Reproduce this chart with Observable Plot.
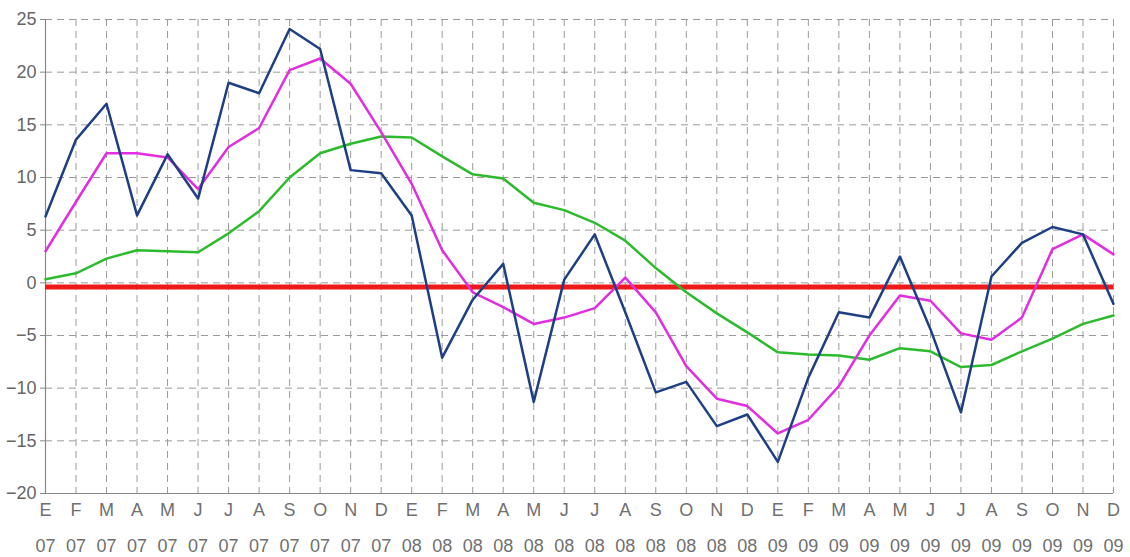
<!DOCTYPE html>
<html>
<head>
<meta charset="utf-8">
<script src="https://cdn.jsdelivr.net/npm/d3@7"></script>
<script src="https://cdn.jsdelivr.net/npm/@observablehq/plot@0.6"></script>
<style>
  html, body { margin: 0; padding: 0; background: #fff; }
  #chart svg { display: block; }
</style>
</head>
<body>
<div id="chart"></div>
<script>
// ---- data ----
const monthLetters = ["E","F","M","A","M","J","J","A","S","O","N","D"];
const years = ["07","08","09"];
const yTicks = [-20, -15, -10, -5, 0, 5, 10, 15, 20, 25];

const seriesBlue = [
  6.3, 13.6, 17.0, 6.4, 12.2, 8.0, 19.0, 18.0, 24.1, 22.2, 10.7, 10.4,
  6.4, -7.1, -1.6, 1.8, -11.3, 0.3, 4.6, -2.8, -10.4, -9.4, -13.6, -12.5,
  -17.0, -9.0, -2.8, -3.3, 2.5, -4.4, -12.3, 0.6, 3.8, 5.3, 4.6, -2.0
];
const seriesMagenta = [
  3.0, 7.7, 12.3, 12.3, 11.9, 8.9, 12.9, 14.7, 20.2, 21.3, 18.9, 14.3,
  9.4, 3.1, -0.9, -2.3, -3.9, -3.3, -2.4, 0.5, -2.8, -7.9, -11.0, -11.7,
  -14.3, -13.0, -9.8, -5.0, -1.2, -1.7, -4.8, -5.4, -3.3, 3.2, 4.6, 2.7
];
const seriesGreen = [
  0.35, 0.9, 2.3, 3.1, 3.0, 2.9, 4.7, 6.8, 10.0, 12.3, 13.2, 13.9,
  13.8, 12.0, 10.3, 9.9, 7.6, 6.9, 5.7, 4.0, 1.4, -0.9, -2.9, -4.7,
  -6.6, -6.8, -6.9, -7.3, -6.2, -6.5, -8.0, -7.8, -6.5, -5.3, -3.9, -3.1
];
const referenceLevel = -0.4;

// month index positions and their two-line labels, built from the label arrays
const monthIndex = [];
const tickLabels = [];
years.forEach((y, yi) => monthLetters.forEach((m, mi) => {
  monthIndex.push(yi * monthLetters.length + mi);
  tickLabels.push(m + "\n" + y);
}));

const toRows = (vals) => vals.map((v, i) => ({i: monthIndex[i], v}));

const gridStyle = {stroke: "#9a9a9a", strokeOpacity: 1, strokeWidth: 1, strokeDasharray: "7,5"};

const chart = Plot.plot({
  width: 1130,
  height: 557,
  marginLeft: 45,
  marginRight: 17,
  marginTop: 19,
  marginBottom: 64,
  style: {fontFamily: "'Liberation Sans', Arial, Helvetica, sans-serif", fontSize: "18px", color: "#666", background: "#fff"},
  x: {type: "linear", domain: [monthIndex[0], monthIndex[monthIndex.length - 1]]},
  y: {domain: [-20, 25]},
  marks: [
    Plot.gridY(yTicks, gridStyle),
    Plot.gridX(monthIndex, gridStyle),
    Plot.ruleX([monthIndex[0]], {stroke: "#888", strokeWidth: 1.2}),
    Plot.ruleY([-20], {stroke: "#888", strokeWidth: 1.2}),
    Plot.axisY(yTicks, {tickSize: 5, tickPadding: 4, label: null, stroke: "#888", fill: "#666", fontSize: 18}),
    Plot.axisX(monthIndex, {tickSize: 0, tickPadding: -2, label: null, lineHeight: 1.95, fill: "#707070", fontSize: 18,
      tickFormat: (d) => tickLabels[d]}),
    Plot.ruleY([referenceLevel], {stroke: "#ee1a1a", strokeWidth: 5}),
    Plot.line(toRows(seriesGreen), {x: "i", y: "v", stroke: "#2dbb2d", strokeWidth: 2.5}),
    Plot.line(toRows(seriesMagenta), {x: "i", y: "v", stroke: "#e02ee0", strokeWidth: 2.5}),
    Plot.line(toRows(seriesBlue), {x: "i", y: "v", stroke: "#1f3f85", strokeWidth: 2.5})
  ]
});
document.getElementById("chart").appendChild(chart);
</script>
</body>
</html>
